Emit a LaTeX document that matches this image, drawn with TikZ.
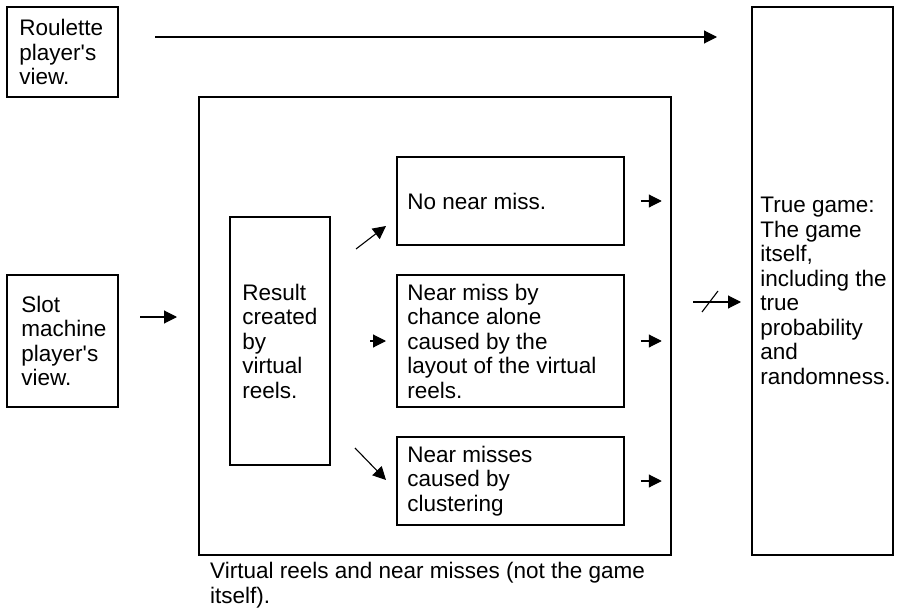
\documentclass[tikz,border=0pt]{standalone}
\usepackage{fontspec}
\newfontfamily\diagfont{Liberation Sans}
\usetikzlibrary{arrows.meta,calc}
\begin{document}
\begin{tikzpicture}[x=1pt,y=-1pt,
  box/.style={draw, line width=1.5pt, rectangle, inner sep=0pt},
  lbl/.style={font=\diagfont\fontsize{22.5}{24.5}\selectfont, align=left, inner sep=0pt, anchor=west},
  arr/.style={-{Triangle[length=13pt,width=13pt]}, line width=1.1pt}]
\useasboundingbox (0,0) rectangle (903,610);
% boxes
\node[box, minimum width=111pt, minimum height=90pt] (rou) at (62.5,52) {};
\node[box, minimum width=111pt, minimum height=132pt] (slot) at (62.5,341) {};
\node[box, minimum width=472pt, minimum height=458pt] (big) at (435,326) {};
\node[box, minimum width=100pt, minimum height=248pt] (res) at (280,341) {};
\node[box, minimum width=227pt, minimum height=88pt] (top) at (510.5,201) {};
\node[box, minimum width=227pt, minimum height=132pt] (mid) at (510.5,341) {};
\node[box, minimum width=227pt, minimum height=88pt] (bot) at (510.5,481) {};
\node[box, minimum width=141pt, minimum height=548pt] (true) at (822.5,281) {};
% texts
\node[lbl] (rout) at ($(rou.west)+(13,0)$) {Roulette\\player's\\view.};
\node[lbl] (slott) at ($(slot.west)+(15,0)$) {Slot\\machine\\player's\\view.};
\node[lbl] (rest) at ($(res.west)+(13,0)$) {Result\\created\\by\\virtual\\reels.};
\node[lbl] (topt) at ($(top.west)+(11,0)$) {No near miss.};
\node[lbl] (midt) at ($(mid.west)+(11,0)$) {Near miss by\\chance alone\\caused by the\\layout of the virtual\\reels.};
\node[lbl] (bott) at ($(bot.west)+(11,0)$) {Near misses\\caused by\\clustering};
\node[lbl] (truet) at ($(true.west)+(9,10)$) {True game:\\The game\\itself,\\including the\\true\\probability\\and\\randomness.};
\node[lbl, anchor=north west] (cap) at (210,562) {Virtual reels and near misses (not the game\\itself).};
% connector end points
\coordinate (r1) at (155,37);
\coordinate (r2) at (717,37);
\coordinate (s1) at (140,317);
\coordinate (s2) at (177,317);
\coordinate (m1) at (370,341);
\coordinate (m2) at (386,341);
\coordinate (u1) at (356,249);
\coordinate (u2) at (386,226);
\coordinate (d1) at (355,448);
\coordinate (d2) at (386,480);
\coordinate (o1) at ($(top.east)+(16,0)$);
\coordinate (o2) at ($(top.east)+(37,0)$);
\coordinate (p1) at ($(mid.east)+(16,0)$);
\coordinate (p2) at ($(mid.east)+(37,0)$);
\coordinate (q1) at ($(bot.east)+(16,0)$);
\coordinate (q2) at ($(bot.east)+(37,0)$);
\coordinate (x1) at (693,302);
\coordinate (x2) at (741,302);
\coordinate (y1) at (702,312);
\coordinate (y2) at (718,291);
% connectors
\draw[arr] (r1) -- (r2);
\draw[arr] (s1) -- (s2);
\draw[arr] (m1) -- (m2);
\draw[arr] (u1) -- (u2);
\draw[arr] (d1) -- (d2);
\draw[arr] (o1) -- (o2);
\draw[arr] (p1) -- (p2);
\draw[arr] (q1) -- (q2);
\draw[arr] (x1) -- (x2);
\draw[line width=1.1pt] (y1) -- (y2);
\end{tikzpicture}
\end{document}
